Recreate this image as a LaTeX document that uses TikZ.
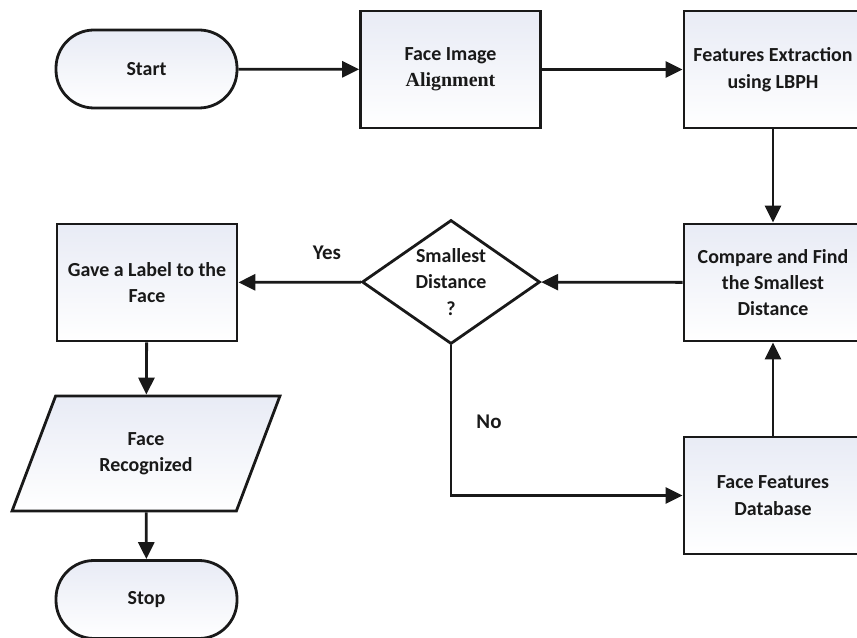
\documentclass[tikz,border=0pt]{standalone}
\usepackage{fontspec}
\setmainfont{Carlito}
\newfontfamily\serifalt{Liberation Serif}
\usetikzlibrary{shapes.geometric,arrows.meta}
\definecolor{boxl}{RGB}{232,235,245}
\definecolor{ink}{RGB}{25,25,25}
\begin{document}
\begin{tikzpicture}[x=1bp,y=-1bp,
  every node/.style={font=\bfseries\fontsize{20}{26.5}\selectfont, text=ink, align=center},
  base/.style={draw=ink, line width=2.8bp, left color=boxl, right color=white, shading angle=0},
  procbox/.style={base, rectangle, minimum width=180bp, minimum height=117bp, inner sep=2bp},
  term/.style={base, rectangle, rounded corners=38bp, minimum width=181bp, minimum height=78bp},
  decide/.style={draw=ink, line width=2.8bp, fill=white, diamond, aspect=1.43, inner sep=0pt, minimum width=178bp, minimum height=124bp},
  io/.style={base, trapezium, trapezium left angle=64, trapezium right angle=116, trapezium stretches=true, minimum width=268bp, minimum height=115bp},
  flow/.style={draw=ink, line width=2.8bp, -{Triangle[length=17bp,width=16bp]}},
  lbl/.style={font=\bfseries\fontsize{21}{24}\selectfont}
]
\useasboundingbox (0,0) rectangle (857,638);
\node[term] (start) at (146.5,69) {Start};
\node[procbox] (align) at (450.5,69.5) {Face Image\\{\serifalt Alignment}};
\node[procbox, minimum width=178bp] (feat) at (773,69.5) {Features Extraction\\using LBPH};
\node[procbox, minimum width=178bp] (comp) at (773,282.5) {Compare and Find\\the Smallest\\Distance};
\node[decide] (dec) at (451,282) {Smallest\\Distance\\?};
\node[procbox] (gave) at (147,282.5) {Gave a Label to the\\Face};
\node[io] (rec) at (146,453.5) {Face\\Recognized};
\node[term] (stop) at (146.5,599.5) {Stop};
\node[procbox, minimum width=178bp] (db) at (773,495.5) {Face Features\\Database};
\coordinate (corner) at (dec.south |- db.west);
\node[lbl] (yes) at (327,253) {Yes};
\node[lbl] (no) at (489,422) {No};
\draw[flow] (start) -- (align);
\draw[flow] (align) -- (feat);
\draw[flow] (feat) -- (comp);
\draw[flow] (comp) -- (dec);
\draw[flow] (dec) -- (gave);
\draw[flow] (gave) -- (rec);
\draw[flow] (rec) -- (stop);
\draw[flow] (db) -- (comp);
\draw[flow] (dec.south) -- (corner) -- (db.west);
\end{tikzpicture}
\end{document}
